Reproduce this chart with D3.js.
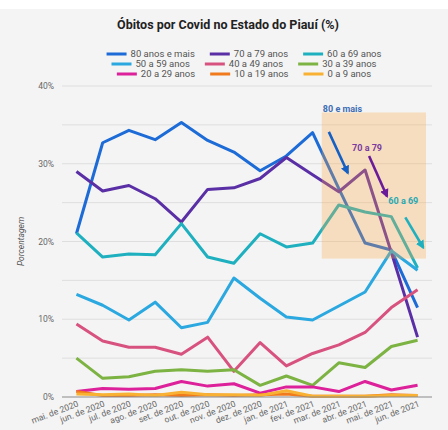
<!DOCTYPE html>
<html>
<head>
<meta charset="utf-8">
<script src="https://cdn.jsdelivr.net/npm/d3@7"></script>
<style>
  body { margin: 0; background: #fff; }
  svg text { font-family: Roboto, "Noto Sans", sans-serif; }
</style>
</head>
<body>
<svg id="chart" width="448" height="430"></svg>
<script>
// months on the x axis
var months = ["mai. de 2020", "jun. de 2020", "jul. de 2020", "ago. de 2020", "set. de 2020",
              "out. de 2020", "nov. de 2020", "dez. de 2020", "jan. de 2021", "fev. de 2021",
              "mar. de 2021", "abr. de 2021", "mai. de 2021", "jun. de 2021"];

var yTicks = [0, 10, 20, 30, 40];

// share of deaths (%) per age group
var age80 = [21.0, 32.7, 34.3, 33.1, 35.3, 33.0, 31.5, 29.1, 31.0, 34.0, 26.8, 19.8, 18.9, 11.5];
var age70 = [29.0, 26.5, 27.2, 25.5, 22.5, 26.7, 26.9, 28.1, 30.8, 28.6, 26.4, 29.2, 18.6, 7.7];
var age60 = [21.1, 18.0, 18.4, 18.3, 22.3, 18.0, 17.2, 21.0, 19.3, 19.8, 24.7, 23.8, 23.2, 16.6];
var age50 = [13.2, 11.8, 9.9, 12.2, 8.9, 9.6, 15.3, 12.7, 10.3, 9.9, 11.7, 13.5, 18.8, 16.3];
var age40 = [9.4, 7.2, 6.4, 6.4, 5.5, 7.7, 3.3, 7.0, 4.0, 5.6, 6.7, 8.3, 11.5, 13.8];
var age30 = [5.0, 2.4, 2.6, 3.3, 3.5, 3.3, 3.5, 1.5, 2.7, 1.5, 4.4, 3.8, 6.5, 7.3];
var age20 = [0.7, 1.1, 1.0, 1.1, 2.0, 1.4, 1.7, 0.5, 1.3, 1.3, 0.7, 2.0, 0.9, 1.5];
var age10 = [0.7, 0.2, 0.2, 0.3, 0.2, 0.3, 0.2, 0.3, 0.4, 0.1, 0.1, 0.1, 0.3, 0.2];
var age0  = [0.4, 0.3, 0.4, 0.2, 0.6, 0.3, 0.3, 0.2, 0.8, 0.1, 0.1, 0.1, 0.2, 0.2];

var seriesNames = ["80 anos e mais", "70 a 79 anos", "60 a 69 anos",
                   "50 a 59 anos", "40 a 49 anos", "30 a 39 anos",
                   "20 a 29 anos", "10 a 19 anos", "0 a 9 anos"];
var seriesValues = [age80, age70, age60, age50, age40, age30, age20, age10, age0];
var seriesColors = ["#1c6bd6", "#5a2fa6", "#1eb0bf", "#2aa8df", "#d8527f",
                    "#7cb342", "#dc219a", "#f07a1c", "#f8b133"];

// highlighted period and its notes
var highlightFrom = "fev. de 2021";
var notes = [
  {label: "80 e mais", color: "#3d6db3", arrow: "#1560c4", idx: 10, dx: -16, v: 36.6, a0: 6, a1: 25, from: 34.1, to: 28.8},
  {label: "70 a 79", color: "#7a3b9f", arrow: "#6a1b9a", idx: 11, dx: -13, v: 31.6, a0: 17, a1: 35, from: 31.0, to: 25.8},
  {label: "60 a 69", color: "#27a9b3", arrow: "#1eb0bf", idx: 12, dx: -3, v: 24.8, a0: 17, a1: 35, from: 23.1, to: 19.2}
];

var svg = d3.select("#chart");
var W = 448, H = 430;

svg.append("rect").attr("x", 0).attr("y", 9).attr("width", W).attr("height", H - 9)
   .attr("fill", "#f4f4f4");

var x = d3.scalePoint().domain(months).range([62, 432]).padding(0.55);
var y = d3.scaleLinear().domain([0, 40]).range([397, 86]);

// title
svg.append("text").attr("x", 228).attr("y", 29).attr("text-anchor", "middle")
   .style("font-size", "12.5px").style("font-weight", "bold").attr("fill", "#222")
   .text("Óbitos por Covid no Estado do Piauí (%)");

// legend, three centered rows
var legendRows = [[0, 1, 2], [3, 4, 5], [6, 7, 8]];
legendRows.forEach(function(row, r) {
  var g = svg.append("g");
  var cx = 0;
  row.forEach(function(si) {
    var item = g.append("g").attr("transform", "translate(" + cx + ",0)");
    item.append("line").attr("x1", 0).attr("x2", 20).attr("y1", 0).attr("y2", 0)
        .attr("stroke", seriesColors[si]).attr("stroke-width", 3);
    var t = item.append("text").attr("x", 24).attr("y", 3.3)
        .style("font-size", "9.5px").attr("fill", "#555").text(seriesNames[si]);
    cx += 24 + t.node().getComputedTextLength() + 15;
  });
  var wdt = cx - 15;
  g.attr("transform", "translate(" + (244 - wdt / 2) + "," + (54 + r * 10) + ")");
});

// grid
var grid = d3.range(5, 41, 5);
svg.append("g").selectAll("line").data(grid).join("line")
   .attr("x1", 62).attr("x2", 432)
   .attr("y1", function(d) { return y(d); }).attr("y2", function(d) { return y(d); })
   .attr("stroke", "#dedede").attr("stroke-width", 1);

// y axis
var yAxis = d3.axisLeft(y).tickValues(yTicks).tickSize(0).tickPadding(8)
    .tickFormat(function(d) { return d + "%"; });
var yg = svg.append("g").attr("transform", "translate(62,0)").call(yAxis);
yg.select(".domain").remove();
yg.selectAll("text").style("font-size", "8.5px").attr("fill", "#666")
  .style("font-family", "Roboto, sans-serif");

svg.append("text").attr("transform", "translate(24," + y(20) + ") rotate(-90)")
   .attr("text-anchor", "middle").style("font-size", "8.5px").style("font-style", "italic")
   .attr("fill", "#555").text("Porcentagem");

// x axis labels
var xAxis = d3.axisBottom(x).tickSize(0).tickPadding(0);
var xg = svg.append("g").attr("transform", "translate(0," + y(0) + ")").call(xAxis);
xg.select(".domain").remove();
xg.selectAll("text")
  .attr("text-anchor", "end").attr("dy", null).attr("y", null)
  .attr("transform", "translate(2,9) rotate(-21)")
  .style("font-size", "8.6px").attr("fill", "#666")
  .style("font-family", "Roboto, sans-serif");

// lines
var line = d3.line()
    .x(function(d, i) { return x(months[i]); })
    .y(function(d) { return y(d); });

svg.append("g").selectAll("path").data(seriesValues).join("path")
   .attr("d", line).attr("fill", "none")
   .attr("stroke", function(d, i) { return seriesColors[i]; })
   .attr("stroke-width", 3).attr("stroke-linejoin", "round");

// baseline
svg.append("line").attr("x1", 62).attr("x2", 432).attr("y1", y(0)).attr("y2", y(0))
   .attr("stroke", "#8a8a8a").attr("stroke-width", 1.2);

// highlight box on top of the lines
var step = x.step();
var boxX0 = x(highlightFrom) + step * 0.35;
svg.append("rect").attr("x", boxX0).attr("y", y(36.6))
   .attr("width", 426 - boxX0).attr("height", y(17.8) - y(36.6))
   .attr("fill", "#ffa844").attr("opacity", 0.3);

// notes with arrows
var defs = svg.append("defs");
notes.forEach(function(n, k) {
  defs.append("marker").attr("id", "head" + k).attr("viewBox", "0 -5 10 10")
      .attr("refX", 8).attr("refY", 0).attr("markerWidth", 3.4).attr("markerHeight", 3.6)
      .attr("markerUnits", "strokeWidth").attr("orient", "auto")
      .append("path").attr("d", "M0,-5L10,0L0,5Z").attr("fill", n.arrow);
});
notes.forEach(function(n, k) {
  var xt = x(months[n.idx]) + n.dx;
  svg.append("text").attr("x", xt).attr("y", y(n.v))
     .style("font-size", "9px").style("font-weight", "bold").attr("fill", n.color)
     .text(n.label);
  svg.append("line").attr("x1", xt + n.a0).attr("y1", y(n.from))
     .attr("x2", xt + n.a1).attr("y2", y(n.to))
     .attr("stroke", n.arrow).attr("stroke-width", 2.6)
     .attr("marker-end", "url(#head" + k + ")");
});
</script>
</body>
</html>
